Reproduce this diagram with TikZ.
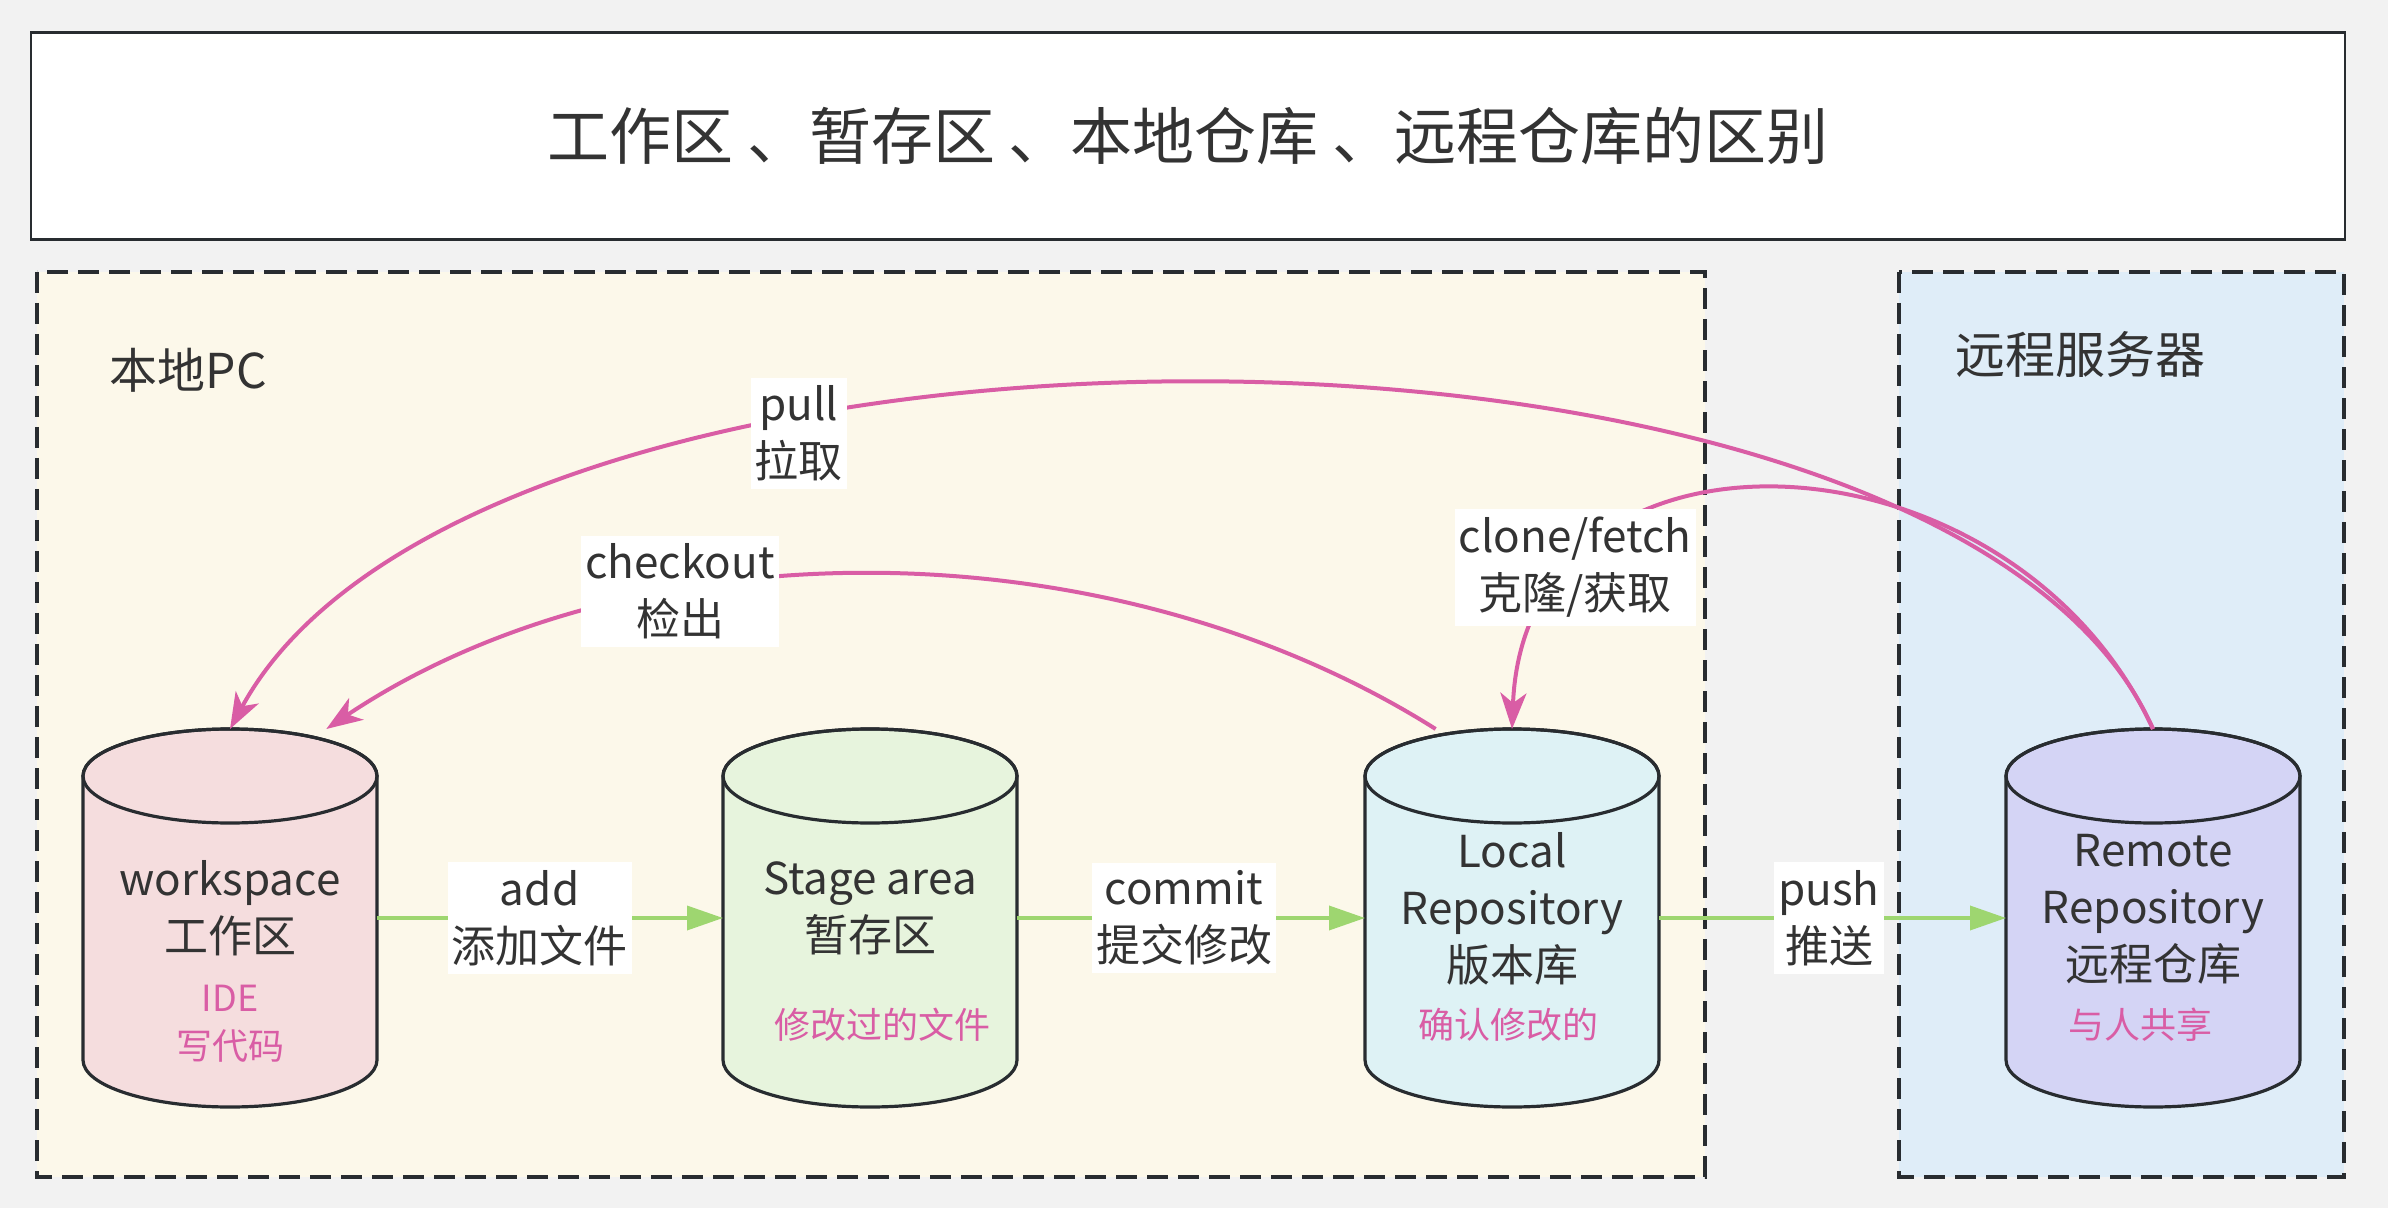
\documentclass[tikz,border=0pt]{standalone}
\usepackage{fontspec}
\setmainfont{Noto Sans CJK SC}
\usetikzlibrary{arrows.meta}

\definecolor{bggray}{RGB}{242,242,242}
\definecolor{localbg}{RGB}{252,248,234}
\definecolor{remotebg}{RGB}{223,237,248}
\definecolor{wsfill}{RGB}{245,221,222}
\definecolor{stgfill}{RGB}{231,244,221}
\definecolor{locfill}{RGB}{222,242,245}
\definecolor{remfill}{RGB}{212,212,245}
\definecolor{pinkline}{RGB}{217,93,165}
\definecolor{greenline}{RGB}{158,214,112}
\definecolor{txt}{RGB}{51,51,51}
\definecolor{edge}{RGB}{40,44,48}

\tikzset{
  repo/.style={minimum width=73.5pt, minimum height=94.5pt, inner sep=0pt, outer sep=0pt},
  repoline/.style={draw=edge, line width=0.8pt},
  repotext/.style={align=center, text=txt, font=\fontsize{11}{14.25}\selectfont},
  repodesc/.style={align=center, text=pinkline, font=\fontsize{9}{12}\selectfont},
  elabel/.style={fill=white, align=center, text=txt, inner xsep=1pt, inner ysep=2pt,
    font=\fontsize{11}{14.25}\selectfont},
  greenarrow/.style={draw=greenline, line width=0.9pt, -{Triangle[length=9pt,width=6pt]}},
  pinkarrow/.style={draw=pinkline, line width=1pt, -{Stealth[length=9pt,width=6.5pt,inset=2.5pt]}},
  areabox/.style={draw=edge, line width=1pt, dash pattern=on 5.25pt off 2.5pt},
  arealabel/.style={anchor=west, text=txt, inner sep=0pt},
}

\begin{document}
\begin{tikzpicture}[x=0.25pt, y=-0.25pt]
  \path[use as bounding box, fill=bggray] (0,0) rectangle (2388,1208);

  % title
  \node[draw=edge, line width=0.6pt, fill=white, minimum width=578.5pt, minimum height=51.75pt,
    text=txt, font=\fontsize{15.5}{18}\selectfont] (title) at (1188,136)
    {工作区 、暂存区 、本地仓库 、远程仓库的区别};

  % areas
  \draw[areabox, fill=localbg] (37,272) rectangle (1705,1177);
  \draw[areabox, fill=remotebg] (1899,272) rectangle (2344,1177);
  \node[arealabel, font=\fontsize{12}{14}\selectfont] (pc) at (109,370) {本地PC};
  \node[arealabel, font=\fontsize{12.5}{14}\selectfont] (server) at (1955,355) {远程服务器};

  % repositories
  \foreach \n/\x/\c in {ws/230/wsfill, stg/870/stgfill, loc/1512/locfill, rem/2153/remfill}{
    \node[repo] (\n) at (\x,918) {};
    \filldraw[repoline, fill=\c] (\x-147,776) -- (\x-147,1060)
      arc[start angle=180, end angle=0, x radius=147, y radius=47] -- (\x+147,776)
      arc[start angle=0, end angle=-180, x radius=147, y radius=47] -- cycle;
    \draw[repoline] (\x,776) ellipse[x radius=147, y radius=47];
  }

  \node[repotext] (wsName) at (230,908) {workspace\\工作区};
  \node[repodesc] (wsNote) at (230,1024) {IDE\\写代码};
  \node[repotext] (stgName) at (870,908) {Stage area\\暂存区};
  \node[repodesc] (stgNote) at (882,1025) {修改过的文件};
  \node[repotext] (locName) at (1512,909) {Local\\Repository\\版本库};
  \node[repodesc] (locNote) at (1508,1025) {确认修改的};
  \node[repotext] (remName) at (2153,909) {Remote\\Repository\\远程仓库};
  \node[repodesc] (remNote) at (2140,1025) {与人共享};

  % forward
  \draw[greenarrow] (ws.east) -- node[elabel, pos=0.47] {add\\添加文件} (stg.west);
  \draw[greenarrow] (stg.east) -- node[elabel, pos=0.48] {commit\\提交修改} (loc.west);
  \draw[greenarrow] (loc.east) -- node[elabel, pos=0.49] {push\\推送} (rem.west);

  % backward
  \draw[pinkarrow] (rem.north) .. controls (1950,269) and (480,269) .. node[elabel, pos=0.665, yshift=-3pt] {pull\\拉取} (ws.north);
  \draw[pinkarrow] (loc.112) .. controls (1109,523) and (634,523) .. node[elabel, pos=0.665] {checkout\\检出} (ws.63);
  \draw[pinkarrow] (rem.north) .. controls (2010,420) and (1525,400) .. node[elabel, pos=0.79] {clone/fetch\\克隆/获取} (loc.north);
\end{tikzpicture}
\end{document}
